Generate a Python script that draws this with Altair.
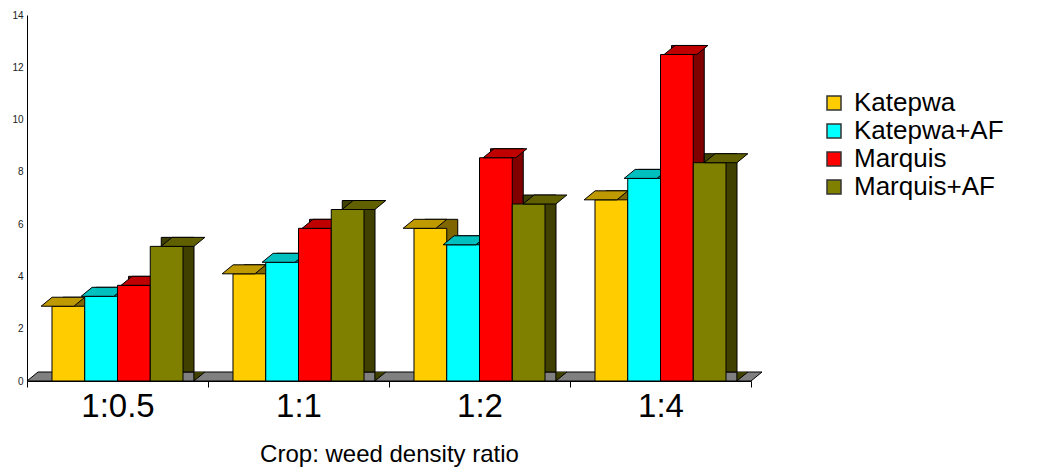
import altair as alt
import pandas as pd

categories = ["1:0.5", "1:1", "1:2", "1:4"]
series = ["Katepwa", "Katepwa+AF", "Marquis", "Marquis+AF"]
katepwa = [2.86, 4.10, 5.84, 6.93]
katepwa_af = [3.24, 4.54, 5.21, 7.75]
marquis = [3.66, 5.84, 8.54, 12.49]
marquis_af = [5.15, 6.56, 6.77, 8.35]
y_ticks = [0, 2, 4, 6, 8, 10, 12, 14]

front_colors = ["#FFCC00", "#00FFFF", "#FF0000", "#808000"]
top_colors = ["#BF9900", "#00BFBF", "#BF0000", "#606000"]
side_colors = ["#806600", "#008080", "#800000", "#404000"]

W, H = 724, 366
DX, DY = 11, 9
OFF_PAD = 0.763
HALF = W / 4 / (4 + 2 * OFF_PAD) / 2  # half of one bar width

values = [katepwa, katepwa_af, marquis, marquis_af]
rows = []
for s, vals in zip(series, values):
    for c, v in zip(categories, vals):
        rows.append({"cat": c, "series": s, "value": v})
df = pd.DataFrame(rows)

FONT = "Liberation Sans"


def xenc(shift=0, axis=None):
    if shift:
        sc = alt.Scale(domain=categories, paddingInner=0, paddingOuter=0,
                       range=[shift, W + shift])
    else:
        sc = alt.Scale(domain=categories, paddingInner=0, paddingOuter=0)
    if axis is None:
        return alt.X("cat:N", scale=sc, axis=None, sort=categories)
    return alt.X("cat:N", scale=sc, axis=axis, sort=categories)


def xoff():
    return alt.XOffset("series:N",
                       scale=alt.Scale(domain=series, paddingInner=0, paddingOuter=OFF_PAD),
                       sort=series)


yscale = alt.Scale(domain=[0, 14], nice=False, zero=True)

x_axis = alt.Axis(title="Crop: weed density ratio", tickBand="extent", tickSize=6,
                  tickColor="black", domainColor="black", labelFontSize=33,
                  labelPadding=3, labelColor="black", labelAngle=0,
                  titleFontSize=24, titleFontWeight="normal", titleColor="black",
                  titleY=80, titleBaseline="alphabetic", grid=False)
y_axis = alt.Axis(values=y_ticks, ticks=False, labelFontSize=10, labelPadding=4,
                  labelColor="#222222", domainColor="black", grid=False, title=None)

legend = alt.Legend(orient="none", legendX=794, legendY=75, title=None, symbolType="square",
                    symbolSize=196, symbolStrokeColor="#333333", symbolStrokeWidth=1.5,
                    labelFontSize=26, labelFont=FONT, labelColor="black",
                    rowPadding=2, labelOffset=7)

floor_df = pd.DataFrame({"k": [0]})
floor_path = f"M0,0 L{W},0 L{W + DX},{-DY} L{DX},{-DY} Z"
floor = alt.Chart(floor_df).mark_point(
    shape=floor_path, size=4, filled=True, fill="#808080", stroke="black",
    strokeWidth=1, opacity=1
).encode(x=alt.value(0), y=alt.value(H))

layers = [floor]
top_path = f"M{-HALF:.2f},0 L{HALF:.2f},0 L{HALF + DX:.2f},{-DY} L{-HALF + DX:.2f},{-DY} Z"
tri_path = f"M{HALF:.2f},{-DY} L{HALF:.2f},0 L{HALF + DX:.2f},{-DY}"
for i, s in enumerate(series):
    base = alt.Chart(df).transform_filter(alt.datum.series == s)
    side = base.mark_bar(stroke="black", strokeWidth=1, yOffset=-DY, y2Offset=-DY).encode(
        x=xenc(DX), xOffset=xoff(),
        y=alt.Y("value:Q", scale=yscale, axis=y_axis),
        y2=alt.datum(0),
        color=alt.value(side_colors[i]),
    )
    tri = base.transform_calculate(zero="0").mark_point(
        shape=tri_path, size=4, filled=True, stroke="black", strokeWidth=1, opacity=1
    ).encode(
        x=xenc(), xOffset=xoff(),
        y=alt.Y("zero:Q", scale=yscale, axis=y_axis),
        fill=alt.value(side_colors[i]),
    )
    front = base.mark_bar(stroke="black", strokeWidth=1).encode(
        x=xenc(axis=x_axis if i == 0 else None), xOffset=xoff(),
        y=alt.Y("value:Q", scale=yscale, axis=y_axis),
        color=alt.Color("series:N", scale=alt.Scale(domain=series, range=front_colors),
                        legend=legend),
    )
    top = base.mark_point(shape=top_path, size=4, filled=True, stroke="black",
                          strokeWidth=1, opacity=1).encode(
        x=xenc(), xOffset=xoff(),
        y=alt.Y("value:Q", scale=yscale, axis=y_axis),
        fill=alt.value(top_colors[i]),
    )
    layers += [side, tri, front, top]

chart = alt.layer(*layers).resolve_scale(
    x="independent", xOffset="independent"
).properties(
    width=W, height=H,
    padding={"left": 19, "top": 7, "right": 1041 - 16 - 19 - W, "bottom": 475 - 16 - 7 - H},
    autosize=alt.AutoSizeParams(type="none"),
).configure(font=FONT).configure_view(stroke=None)

chart.save("out.html", embed_options={"renderer": "svg", "actions": False})
